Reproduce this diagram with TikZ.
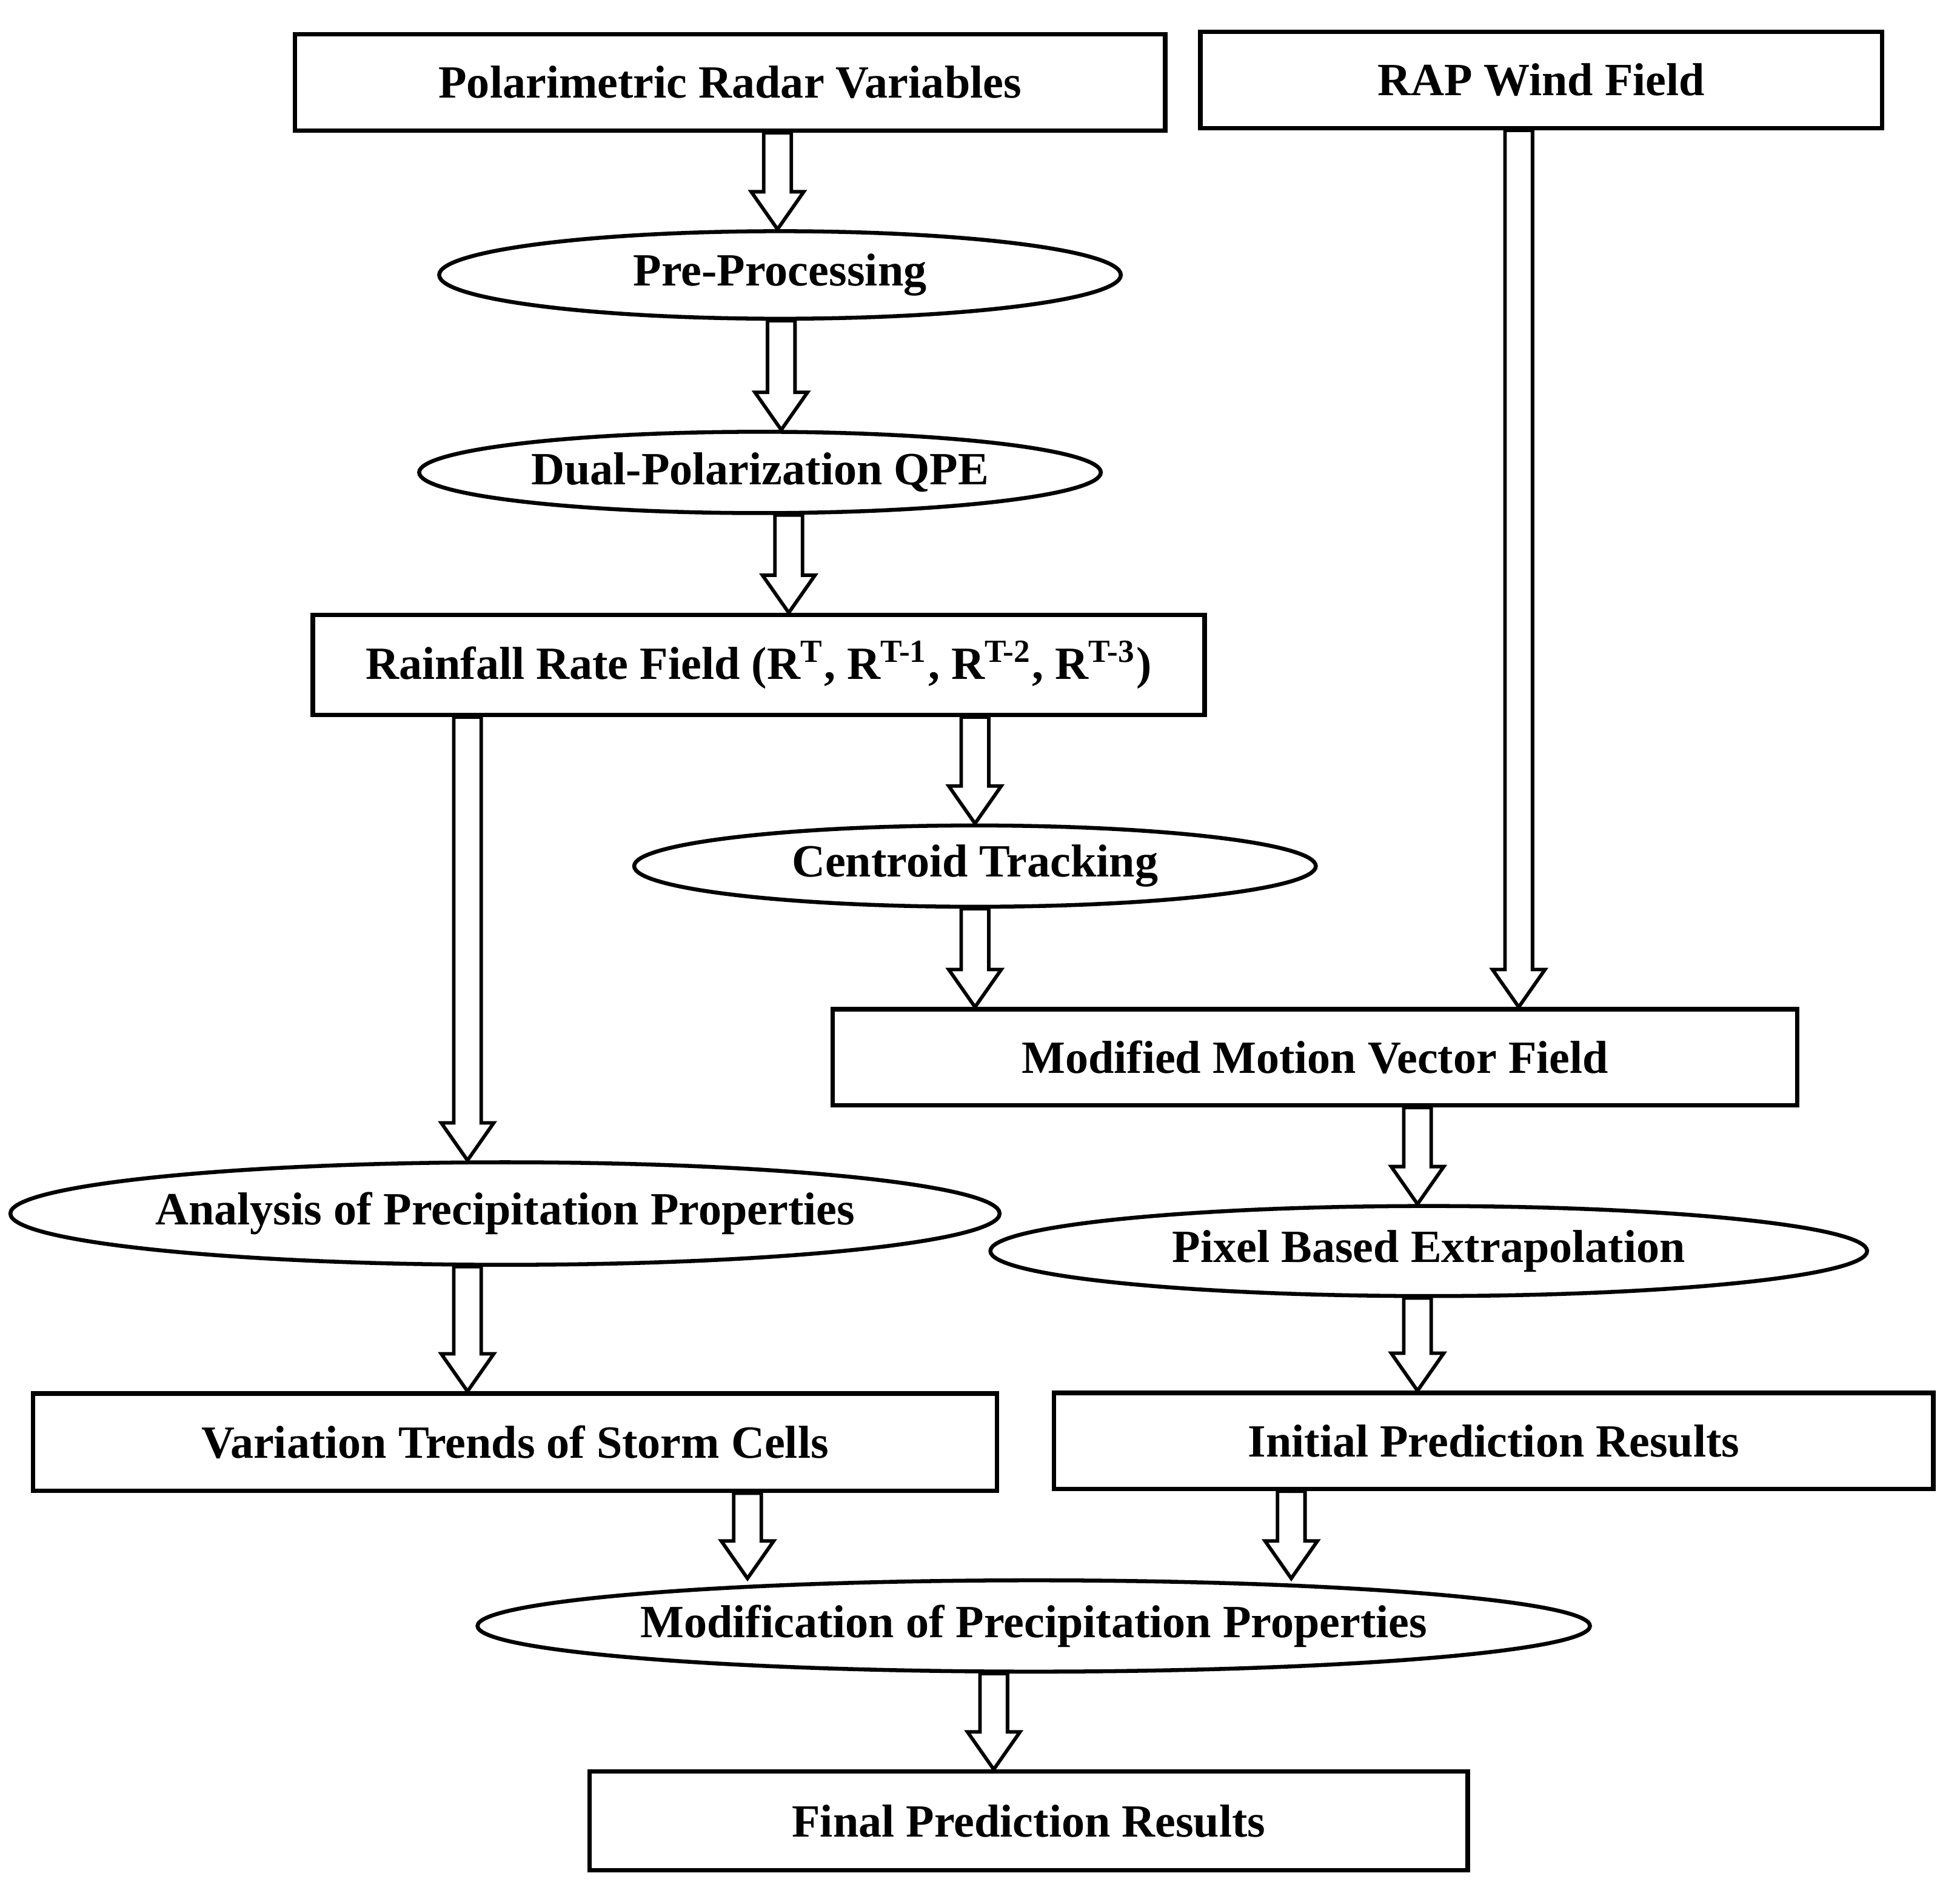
\documentclass[tikz,border=0pt]{standalone}
\usepackage{fontspec}
\setmainfont{Liberation Serif}
\usetikzlibrary{shapes.geometric,calc}

\tikzset{
    box/.style={draw,line width=1pt,rectangle,font=\bfseries\fontsize{10.5}{12}\selectfont,
        inner sep=0pt},
    oval/.style={draw,line width=0.9pt,ellipse,font=\bfseries\fontsize{10.5}{12}\selectfont,
        inner sep=0pt},
    hollow/.style={draw,line width=0.8pt,fill=white}
}
% block arrow at x=#1 from node #2 to node #3 (lengths in 0.01cm)
\newcommand{\blockarrow}[3]{
    \draw[hollow] let \p1=($(#2.south -| #1,0)+(0,-0.05)$), \p2=($(#3.north -| #1,0)+(0,0.05)$) in
        (\x1-0.11cm,\y1) -- (\x1+0.11cm,\y1) -- (\x1+0.11cm,\y2+0.3cm)
        -- (\x1+0.21cm,\y2+0.3cm) -- (\x1,\y2) -- (\x1-0.21cm,\y2+0.3cm)
        -- (\x1-0.11cm,\y2+0.3cm) -- cycle;
}

\begin{document}
\begin{tikzpicture}[x=0.01cm,y=-0.01cm]
    \useasboundingbox (0,0) rectangle (1568,1517);

    \node[box,minimum width=6.96cm,minimum height=0.77cm] (polar) at (584,66)
        {Polarimetric Radar Variables};
    \node[box,minimum width=5.45cm,minimum height=0.77cm] (rap) at (1233,64)
        {RAP Wind Field};
    \node[oval,minimum width=5.45cm,minimum height=0.70cm] (pre) at (624,220)
        {Pre-Processing};
    \node[oval,minimum width=5.45cm,minimum height=0.65cm] (qpe) at (608,378)
        {Dual-Polarization QPE};
    \node[box,minimum width=7.13cm,minimum height=0.80cm] (rain) at (607,532)
        {Rainfall Rate Field (R\textsuperscript{T}, R\textsuperscript{T-1}, R\textsuperscript{T-2}, R\textsuperscript{T-3})};
    \node[oval,minimum width=5.45cm,minimum height=0.65cm] (track) at (780,693)
        {Centroid Tracking};
    \node[box,minimum width=7.71cm,minimum height=0.77cm] (motion) at (1052,846)
        {Modified Motion Vector Field};
    \node[oval,minimum width=6.95cm,minimum height=0.82cm] (anal) at (404,971)
        {Analysis of Precipitation Properties};
    \node[oval,minimum width=7.01cm,minimum height=0.72cm] (pixel) at (1143,1001)
        {Pixel Based Extrapolation};
    \node[box,minimum width=7.71cm,minimum height=0.78cm] (trend) at (412,1154)
        {Variation Trends of Storm Cells};
    \node[box,minimum width=7.03cm,minimum height=0.77cm] (init) at (1195,1153)
        {Initial Prediction Results};
    \node[oval,minimum width=8.09cm,minimum height=0.73cm] (modif) at (827,1301)
        {Modification of Precipitation Properties};
    \node[box,minimum width=7.02cm,minimum height=0.79cm] (final) at (823,1457)
        {Final Prediction Results};

    \blockarrow{622}{polar}{pre}
    \blockarrow{625}{pre}{qpe}
    \blockarrow{631}{qpe}{rain}
    \blockarrow{374}{rain}{anal}
    \blockarrow{780}{rain}{track}
    \blockarrow{780}{track}{motion}
    \blockarrow{1215}{rap}{motion}
    \blockarrow{1134}{motion}{pixel}
    \blockarrow{374}{anal}{trend}
    \blockarrow{1134}{pixel}{init}
    \blockarrow{598}{trend}{modif}
    \blockarrow{1033}{init}{modif}
    \blockarrow{795}{modif}{final}
\end{tikzpicture}
\end{document}
